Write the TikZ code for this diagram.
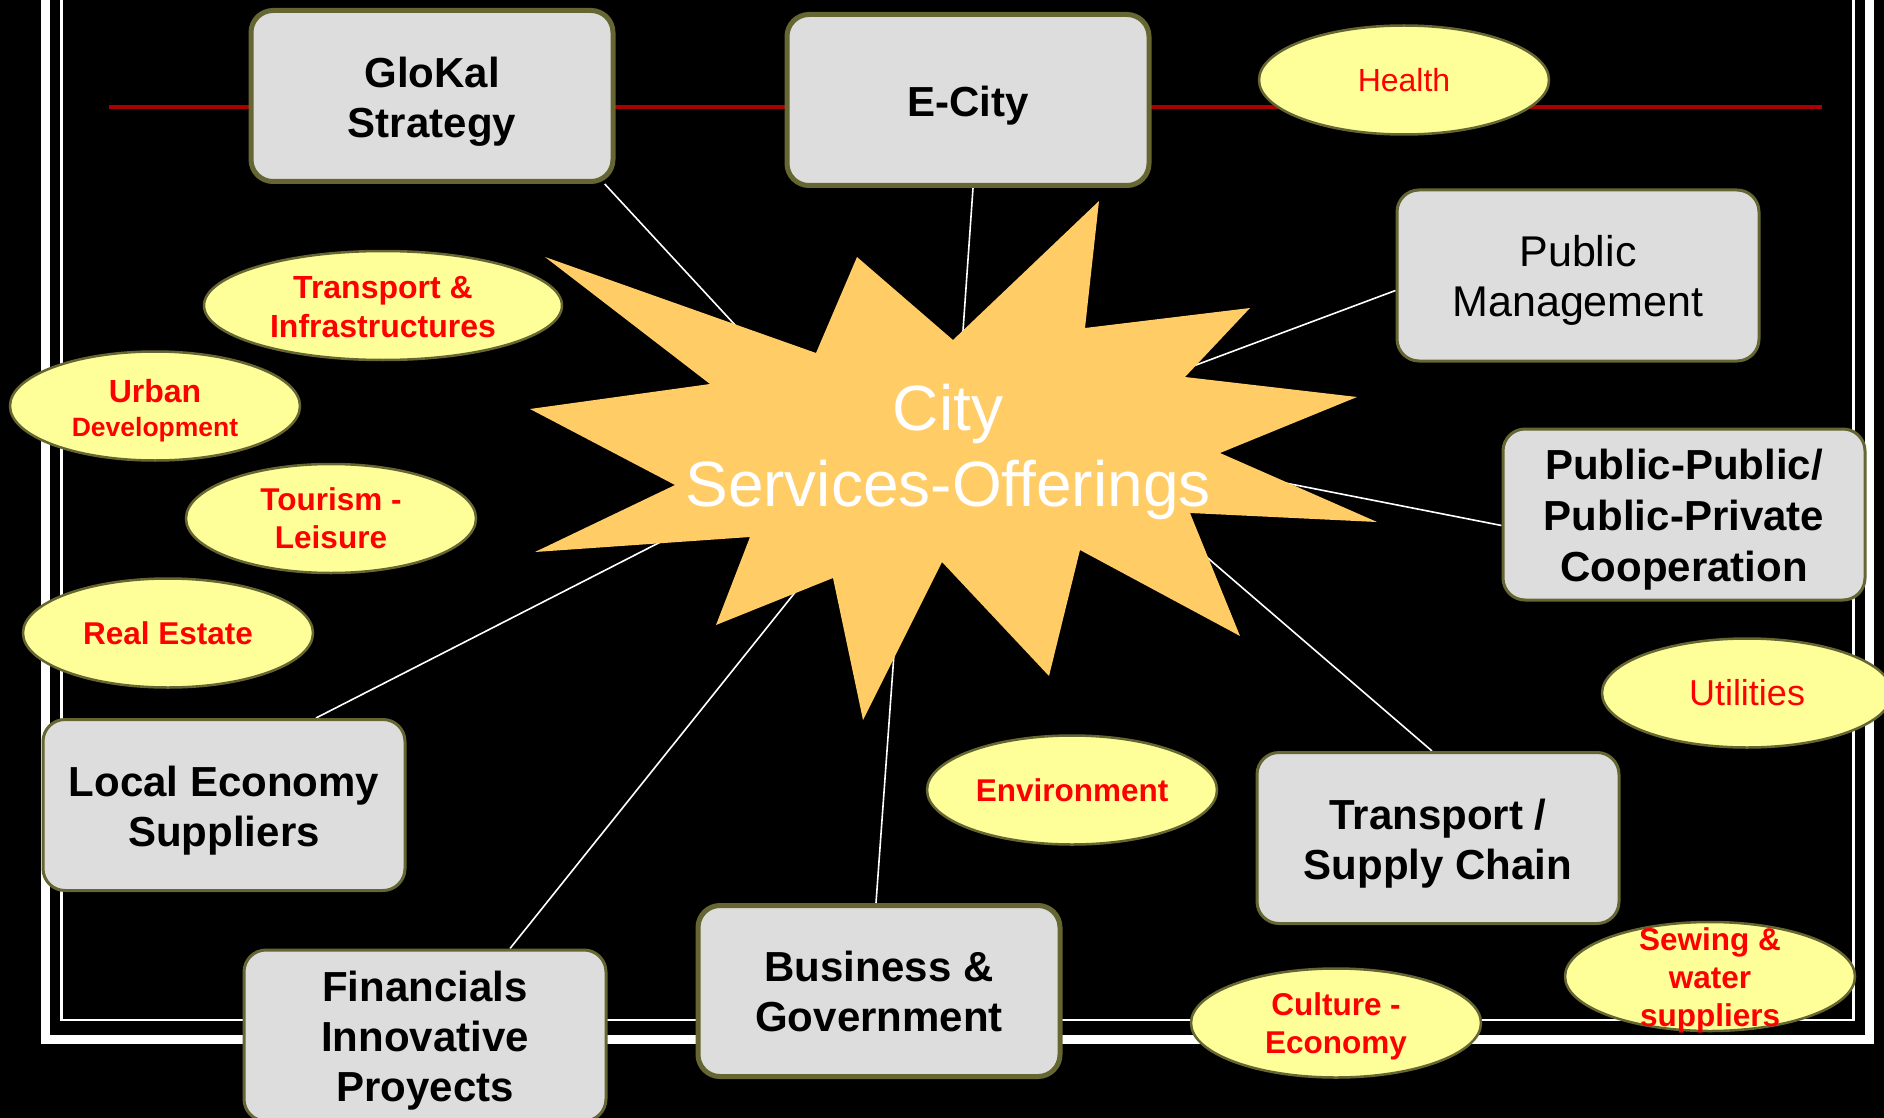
\documentclass[tikz,border=0pt]{standalone}
\usepackage{fontspec}
\setmainfont{Liberation Sans}
\usetikzlibrary{shapes.geometric}
\definecolor{boxgray}{RGB}{221,221,221}
\definecolor{boxrim}{RGB}{102,102,51}
\definecolor{bubblefill}{RGB}{255,255,153}
\definecolor{starfill}{RGB}{255,204,102}
\definecolor{rulered}{RGB}{170,0,0}
\newcommand\liftline[1]{\rule{0pt}{#1}}
\pgfdeclarelayer{back}
\pgfdeclarelayer{mid}
\pgfsetlayers{back,mid,main}

\begin{document}
\begin{tikzpicture}[x=1pt, y=-1pt,
  block/.style = {draw=boxrim, fill=boxgray, rounded corners=22pt, align=center, text=black, inner sep=0pt,
                  minimum width=362pt, minimum height=171pt, line width=3pt, font=\fontsize{42}{50}\selectfont\bfseries},
  heavy/.style = {block, line width=5pt},
  bubble/.style = {ellipse, draw=boxrim, fill=bubblefill, line width=2.5pt, text=red, align=center, inner sep=0pt,
                   minimum width=290pt, minimum height=109pt, font=\fontsize{31.5}{38}\selectfont\bfseries},
  link/.style = {white, line width=1.6pt}]
\useasboundingbox (0,0) rectangle (1884,1118);

\node[heavy] (glokal) at (432,96) {\liftline{41pt}GloKal\\Strategy};
\node[heavy] (ecity) at (968,100) {\liftline{41pt}E-City};
\node[block, font=\fontsize{43}{50}\selectfont] (pubman) at (1578,275.5) {\liftline{41pt}Public\\Management};
\node[block, font=\fontsize{42}{51}\selectfont\bfseries] (ppp) at (1684,514.5) {\liftline{41pt}Public-Public/\\Public-Private\\Cooperation};
\node[block] (transp) at (1438,838) {\liftline{41pt}Transport /\\Supply Chain};
\node[block] (localeco) at (224,805) {\liftline{41pt}Local Economy\\Suppliers};
\node[block] (financ) at (425,1035.5) {\liftline{41pt}Financials\\Innovative\\Proyects};
\node[heavy] (busgov) at (879,991) {Business \&\\Government};

\node[bubble, font=\fontsize{32}{39}\selectfont] (health) at (1404,80) {Health};
\node[bubble, minimum width=358pt, font=\fontsize{32}{39}\selectfont\bfseries] (transinfra) at (383,305.5) {\liftline{25pt}Transport \&\\Infrastructures};
\node[bubble, font=\fontsize{26.5}{34}\selectfont\bfseries] (urban) at (155,406) {\liftline{32pt}{\fontsize{32}{34}\selectfont Urban}\\Development};
\node[bubble] (tourism) at (331,518.5) {Tourism -\\Leisure};
\node[bubble] (realestate) at (168,633) {Real Estate};
\node[bubble] (environment) at (1072,790) {Environment};
\node[bubble, font=\fontsize{36}{43}\selectfont] (utilities) at (1747,693) {Utilities};
\node[bubble] (culture) at (1336,1023) {\liftline{30.5pt}Culture -\\Economy};
\node[bubble, inner sep=-20pt] (sewing) at (1710,976.5) {\liftline{30pt}Sewing \&\\water\\suppliers};

\node[text=white, align=center, inner sep=0pt, font=\fontsize{64}{76}\selectfont] (city) at (948,452) {City\\Services-Offerings};

\begin{pgfonlayer}{back}
  \fill[black] (0,0) rectangle (1884,1118);
  \draw[white, line width=9pt] (45.5,-40) rectangle (1869.5,1039);
  \draw[white, line width=2.5pt] (61.5,-40) rectangle (1853.5,1020);
  \draw[rulered, line width=3.5pt] (109,107) -- (1822,107);
  \coordinate (glokal-in) at (760,352);
  \coordinate (ecity-in) at (962,345);
  \coordinate (pubman-in) at (1180,371);
  \coordinate (ppp-in) at (1270,480);
  \coordinate (transp-in) at (1195,547);
  \coordinate (busgov-in) at (895,640);
  \coordinate (financ-in) at (805,580);
  \coordinate (localeco-in) at (680,532);
  \draw[link] (glokal.-27) -- (glokal-in);
  \draw[link] ([xshift=5pt]ecity.south) -- (ecity-in);
  \draw[link] ([yshift=-15pt]pubman.west) -- (pubman-in);
  \draw[link] ([yshift=-11pt]ppp.west) -- (ppp-in);
  \draw[link] ([xshift=-6pt]transp.north) -- (transp-in);
  \draw[link] ([xshift=-3pt]busgov.north) -- (busgov-in);
  \draw[link] ([xshift=85pt]financ.north) -- (financ-in);
  \draw[link] ([xshift=92pt]localeco.north) -- (localeco-in);
\end{pgfonlayer}

\begin{pgfonlayer}{mid}
  \fill[starfill] (545,257) -- (816,353) -- (857,257) -- (953,340) -- (1099,201) -- (1085,328)
    -- (1250,308) -- (1185,377) -- (1357,397) -- (1220,453) -- (1377,522) -- (1190,513)
    -- (1240,636) -- (1080,550) -- (1049,676) -- (942,562) -- (863,720) -- (833,578)
    -- (716,625) -- (750,537) -- (535,552) -- (675,485) -- (530,409) -- (710,384) -- cycle;
\end{pgfonlayer}
\end{tikzpicture}
\end{document}
